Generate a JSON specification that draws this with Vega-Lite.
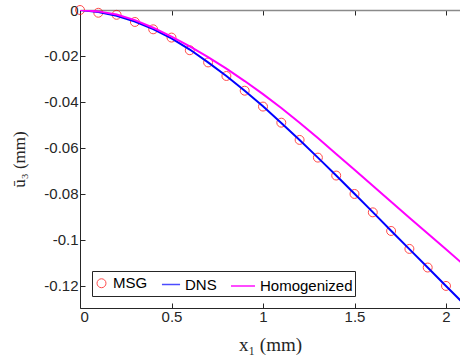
{
  "$schema": "https://vega.github.io/schema/vega-lite/v6.json",
  "width": 380,
  "height": 298,
  "autosize": "none",
  "padding": {"left": 80, "top": 10, "right": 0, "bottom": 52},
  "background": "white",
  "config": {"view": {"stroke": null}, "font": "Liberation Sans"},
  "data": {
    "values": [
      {"series": "MSG", "x": 0.0, "y": 0.0},
      {"series": "MSG", "x": 0.1, "y": -0.0012},
      {"series": "MSG", "x": 0.2, "y": -0.0021},
      {"series": "MSG", "x": 0.3, "y": -0.0052},
      {"series": "MSG", "x": 0.4, "y": -0.0084},
      {"series": "MSG", "x": 0.5, "y": -0.0120},
      {"series": "MSG", "x": 0.6, "y": -0.0175},
      {"series": "MSG", "x": 0.7, "y": -0.0228},
      {"series": "MSG", "x": 0.8, "y": -0.0287},
      {"series": "MSG", "x": 0.9, "y": -0.0351},
      {"series": "MSG", "x": 1.0, "y": -0.0420},
      {"series": "MSG", "x": 1.1, "y": -0.0490},
      {"series": "MSG", "x": 1.2, "y": -0.0565},
      {"series": "MSG", "x": 1.3, "y": -0.0642},
      {"series": "MSG", "x": 1.4, "y": -0.0720},
      {"series": "MSG", "x": 1.5, "y": -0.0800},
      {"series": "MSG", "x": 1.6, "y": -0.0880},
      {"series": "MSG", "x": 1.7, "y": -0.0961},
      {"series": "MSG", "x": 1.8, "y": -0.1039},
      {"series": "MSG", "x": 1.9, "y": -0.1120},
      {"series": "MSG", "x": 2.0, "y": -0.1200},
      {"series": "DNS", "x": 0.0, "y": 0.0},
      {"series": "DNS", "x": 0.1, "y": -0.0009},
      {"series": "DNS", "x": 0.2, "y": -0.0025},
      {"series": "DNS", "x": 0.3, "y": -0.0050},
      {"series": "DNS", "x": 0.4, "y": -0.0083},
      {"series": "DNS", "x": 0.5, "y": -0.0123},
      {"series": "DNS", "x": 0.6, "y": -0.0172},
      {"series": "DNS", "x": 0.7, "y": -0.0228},
      {"series": "DNS", "x": 0.8, "y": -0.0287},
      {"series": "DNS", "x": 0.9, "y": -0.0351},
      {"series": "DNS", "x": 1.0, "y": -0.0419},
      {"series": "DNS", "x": 1.1, "y": -0.0491},
      {"series": "DNS", "x": 1.2, "y": -0.0565},
      {"series": "DNS", "x": 1.3, "y": -0.0642},
      {"series": "DNS", "x": 1.4, "y": -0.0720},
      {"series": "DNS", "x": 1.5, "y": -0.0799},
      {"series": "DNS", "x": 1.6, "y": -0.0879},
      {"series": "DNS", "x": 1.7, "y": -0.0960},
      {"series": "DNS", "x": 1.8, "y": -0.1040},
      {"series": "DNS", "x": 1.9, "y": -0.1120},
      {"series": "DNS", "x": 2.0, "y": -0.1200},
      {"series": "DNS", "x": 2.1, "y": -0.1280},
      {"series": "Homogenized", "x": 0.0, "y": 0.0},
      {"series": "Homogenized", "x": 0.1, "y": -0.0006},
      {"series": "Homogenized", "x": 0.2, "y": -0.0020},
      {"series": "Homogenized", "x": 0.3, "y": -0.0044},
      {"series": "Homogenized", "x": 0.4, "y": -0.0077},
      {"series": "Homogenized", "x": 0.5, "y": -0.0116},
      {"series": "Homogenized", "x": 0.6, "y": -0.0158},
      {"series": "Homogenized", "x": 0.7, "y": -0.0205},
      {"series": "Homogenized", "x": 0.8, "y": -0.0255},
      {"series": "Homogenized", "x": 0.9, "y": -0.0309},
      {"series": "Homogenized", "x": 1.0, "y": -0.0366},
      {"series": "Homogenized", "x": 1.1, "y": -0.0426},
      {"series": "Homogenized", "x": 1.2, "y": -0.0490},
      {"series": "Homogenized", "x": 1.3, "y": -0.0557},
      {"series": "Homogenized", "x": 1.4, "y": -0.0626},
      {"series": "Homogenized", "x": 1.5, "y": -0.0695},
      {"series": "Homogenized", "x": 1.6, "y": -0.0764},
      {"series": "Homogenized", "x": 1.7, "y": -0.0834},
      {"series": "Homogenized", "x": 1.8, "y": -0.0903},
      {"series": "Homogenized", "x": 1.9, "y": -0.0972},
      {"series": "Homogenized", "x": 2.0, "y": -0.1041},
      {"series": "Homogenized", "x": 2.1, "y": -0.1110}
    ]
  },
  "resolve": {"axis": {"x": "independent"}},
  "layer": [
    {
      "transform": [{"filter": "datum.series === 'MSG'"}],
      "mark": {"type": "point", "filled": false},
      "encoding": {
        "x": {
          "field": "x", "type": "quantitative",
          "scale": {"domain": [0, 2.0765], "nice": false, "zero": false},
          "axis": {
            "orient": "bottom", "title": "x₁ (mm)", "values": [0, 0.5, 1, 1.5, 2], "format": "~g",
            "grid": false, "tickSize": -5, "labelPadding": 6,
            "domainColor": "#262626", "tickColor": "#262626", "labelColor": "#262626",
            "labelFont": "Liberation Sans", "labelFontSize": 15,
            "titleFont": "Liberation Serif", "titleFontSize": 19, "titleFontWeight": "normal", "titleColor": "#262626", "titlePadding": 11
          }
        },
        "y": {
          "field": "y", "type": "quantitative",
          "scale": {"domain": [-0.1296, 0], "nice": false, "zero": false},
          "axis": {
            "title": "ū₃ (mm)", "values": [-0.12, -0.1, -0.08, -0.06, -0.04, -0.02, 0],
            "labelExpr": "datum.value == 0 ? '0' : '-' + format(-datum.value, '~g')",
            "grid": false, "tickSize": -5, "labelPadding": 7,
            "domainColor": "#262626", "tickColor": "#262626", "labelColor": "#262626",
            "labelFont": "Liberation Sans", "labelFontSize": 15,
            "titleFont": "Liberation Serif", "titleFontSize": 17, "titleFontWeight": "normal", "titleColor": "#262626", "titlePadding": 15
          }
        },
        "color": {
          "field": "series", "type": "nominal",
          "scale": {"domain": ["MSG", "DNS", "Homogenized"], "range": ["#ff0000", "#0000ff", "#ff00ff"]},
          "legend": {
            "title": null, "orient": "none", "direction": "horizontal", "legendX": 12, "legendY": 261,
            "strokeColor": "#262626", "fillColor": "white", "padding": 2, "columnPadding": 10,
            "labelFont": "Liberation Sans", "labelFontSize": 15, "labelColor": "black", "labelOffset": 4
          }
        },
        "shape": {
          "field": "series", "type": "nominal",
          "scale": {"domain": ["MSG", "DNS", "Homogenized"], "range": ["circle", "stroke", "stroke"]},
          "legend": null
        },
        "size": {
          "field": "series", "type": "nominal",
          "scale": {"domain": ["MSG", "DNS", "Homogenized"], "range": [80, 576, 576]},
          "legend": null
        },
        "strokeWidth": {
          "field": "series", "type": "nominal",
          "scale": {"domain": ["MSG", "DNS", "Homogenized"], "range": [1, 2, 2]},
          "legend": null
        }
      }
    },
    {
      "transform": [{"filter": "datum.series !== 'MSG'"}],
      "mark": {"type": "line", "strokeWidth": 2, "clip": true},
      "encoding": {
        "x": {
          "field": "x", "type": "quantitative",
          "axis": {"orient": "top", "title": null, "labels": false, "values": [0, 0.5, 1, 1.5, 2], "grid": false, "tickSize": -5, "domainColor": "#8a8a8a", "domainWidth": 1.5, "tickColor": "#262626"}
        },
        "y": {"field": "y", "type": "quantitative"},
        "color": {"field": "series", "type": "nominal"}
      }
    }
  ]
}
